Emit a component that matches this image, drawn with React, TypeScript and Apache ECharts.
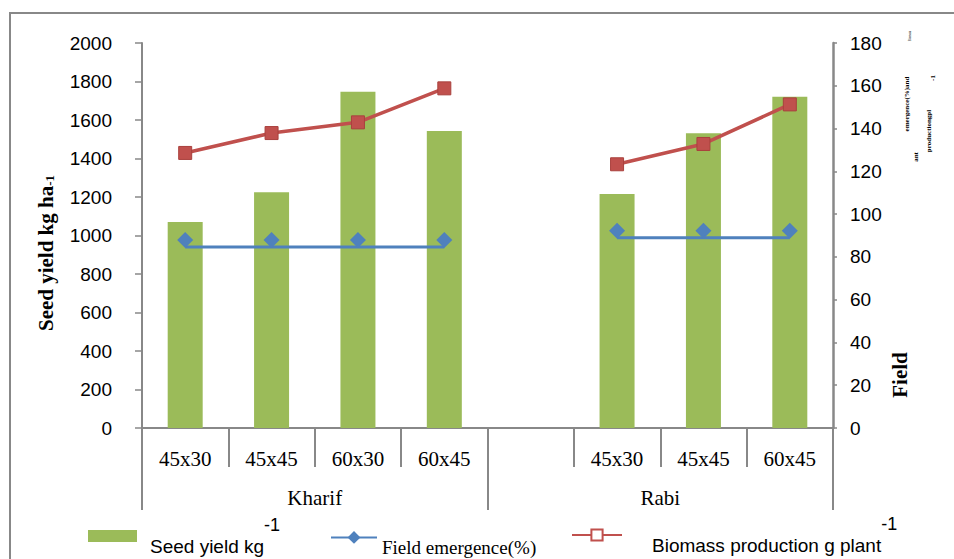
import React, { useEffect, useRef } from "react";
import * as echarts from "echarts";

const categories = ["45x30", "45x45", "60x30", "60x45", "", "45x30", "45x45", "60x45"];
const seasons = ["Kharif", "Rabi"];
const seedYield = [1070, 1225, 1747, 1543, null, 1216, 1531, 1721];
const fieldEmergence = [84.6, 84.6, 84.6, 84.6, null, 88.9, 88.9, 88.9];
const biomass = [128.6, 137.9, 142.9, 158.8, null, 123.3, 132.8, 151.3];

const seriesNames = ["Seed yield kg-1", "Field emergence(%)", "Biomass production g plant-1"];

const GRAY = "#888888";
const GREEN = "#9BBB59";
const BLUE = "#4F81BD";
const RED = "#C0504D";

export default function App() {
  const ref = useRef<HTMLDivElement>(null);
  useEffect(() => {
    if (!ref.current) return;
    const chart = echarts.init(ref.current, null, { renderer: "svg" });
    const sansLabel = { fontFamily: "Liberation Sans", fontSize: 19, color: "#000" };
    const serifLabel = { fontFamily: "Liberation Serif", fontSize: 21, color: "#000" };
    chart.setOption({
      animation: false,
      backgroundColor: "#ffffff",
      grid: [
        { left: 142, right: 121, top: 43, bottom: 131, containLabel: false },
        { left: 142, right: 121, top: 428, bottom: 92, containLabel: false },
      ],
      xAxis: [
        {
          type: "category",
          gridIndex: 0,
          data: categories,
          position: "bottom",
          boundaryGap: true,
          axisLine: { show: true, lineStyle: { color: GRAY, width: 2 } },
          axisTick: { show: true, interval: 0, length: 39, lineStyle: { color: GRAY, width: 2 } },
          axisLabel: { interval: 0, margin: 20, ...serifLabel },
        },
        {
          type: "category",
          gridIndex: 1,
          data: seasons,
          position: "bottom",
          boundaryGap: true,
          axisLine: { show: false },
          axisTick: { show: true, interval: 0, length: 43, lineStyle: { color: GRAY, width: 2 } },
          axisLabel: { show: true, interval: 0, margin: 20, ...serifLabel },
        },
      ],
      yAxis: [
        {
          type: "value",
          gridIndex: 0,
          min: 0,
          max: 2000,
          interval: 200,
          position: "left",
          axisLine: { show: true, lineStyle: { color: GRAY, width: 2 } },
          axisTick: { show: true, length: 7, lineStyle: { color: GRAY, width: 1.5 } },
          axisLabel: { margin: 30, formatter: (v: number) => String(v), ...sansLabel },
          splitLine: { show: false },
        },
        {
          type: "value",
          gridIndex: 0,
          min: 0,
          max: 180,
          interval: 20,
          position: "right",
          axisLine: { show: true, lineStyle: { color: GRAY, width: 2.5 } },
          axisTick: { show: true, length: 4, lineStyle: { color: GRAY, width: 1.5 } },
          axisLabel: { margin: 17, formatter: (v: number) => String(v), ...sansLabel },
          splitLine: { show: false },
        },
        {
          type: "value",
          gridIndex: 1,
          min: 0,
          max: 1,
          show: false,
        },
      ],
      legend: [
        {
          data: [seriesNames[0]],
          left: 83,
          top: 511,
          icon: "rect",
          itemWidth: 49,
          itemHeight: 12,
          formatter: () => "{b|Seed yield kg}{s|-1}",
          textStyle: {
            rich: {
              b: { fontFamily: "Liberation Sans", fontSize: 19, color: "#000", lineHeight: 40, verticalAlign: "bottom", padding: [0, 0, 0, 8] },
              s: { fontFamily: "Liberation Sans", fontSize: 18, color: "#000", lineHeight: 40, verticalAlign: "top" },
            },
          },
        },
        {
          data: [seriesNames[1]],
          left: 325,
          top: 526,
          itemWidth: 46,
          itemHeight: 16,
          formatter: () => "{t|Field emergence(%)}",
          textStyle: {
            rich: {
              t: { fontFamily: "Liberation Serif", fontSize: 19, color: "#000", lineHeight: 40, verticalAlign: "bottom" },
            },
          },
        },
        {
          data: [{ name: seriesNames[2], itemStyle: { color: "#ffffff", borderColor: RED, borderWidth: 2 } }],
          left: 566,
          top: 510,
          itemWidth: 50,
          itemHeight: 14,
          formatter: () => "{b|Biomass production g plant}{s|-1}",
          textStyle: {
            rich: {
              b: { fontFamily: "Liberation Sans", fontSize: 19, color: "#000", lineHeight: 40, verticalAlign: "bottom", padding: [0, 0, 0, 25] },
              s: { fontFamily: "Liberation Sans", fontSize: 18, color: "#000", lineHeight: 40, verticalAlign: "top" },
            },
          },
        },
      ],
      series: [
        {
          name: seriesNames[0],
          type: "bar",
          xAxisIndex: 0,
          yAxisIndex: 0,
          barWidth: 35,
          itemStyle: { color: GREEN },
          data: seedYield,
        },
        {
          name: seriesNames[1],
          type: "line",
          xAxisIndex: 0,
          yAxisIndex: 1,
          symbol: "diamond",
          symbolSize: 16,
          symbolOffset: [0, -7],
          lineStyle: { color: BLUE, width: 3 },
          itemStyle: { color: BLUE },
          data: fieldEmergence,
        },
        {
          name: seriesNames[2],
          type: "line",
          xAxisIndex: 0,
          yAxisIndex: 1,
          symbol: "rect",
          symbolSize: 13,
          lineStyle: { color: RED, width: 3.5 },
          itemStyle: { color: RED, borderColor: "#A9403D", borderWidth: 1 },
          data: biomass,
        },
        {
          name: "season-axis",
          type: "line",
          xAxisIndex: 1,
          yAxisIndex: 2,
          silent: true,
          showSymbol: false,
          lineStyle: { opacity: 0 },
          data: [null, null],
        },
      ],
      graphic: [
        {
          type: "rect",
          silent: true,
          z: -10,
          shape: { x: 10, y: 13, width: 960, height: 560 },
          style: { fill: "none", stroke: GRAY, lineWidth: 2 },
        },
        {
          type: "text",
          x: 43,
          y: 253,
          rotation: Math.PI / 2,
          style: {
            text: "{a|Seed yield kg ha}{b|-1}",
            align: "center",
            verticalAlign: "middle",
            rich: {
              a: { fontFamily: "Liberation Serif", fontWeight: "bold", fontSize: 21, color: "#000", lineHeight: 26, verticalAlign: "bottom" },
              b: { fontFamily: "Liberation Serif", fontWeight: "bold", fontSize: 13, color: "#000", lineHeight: 26, verticalAlign: "bottom" },
            },
          },
        },
        {
          type: "text",
          x: 900,
          y: 375,
          rotation: Math.PI / 2,
          style: { text: "Field", align: "center", verticalAlign: "middle", fontFamily: "Liberation Serif", fontWeight: "bold", fontSize: 21, fill: "#000" },
        },
        {
          type: "text",
          x: 907,
          y: 104,
          rotation: Math.PI / 2,
          style: { text: "emergence(%)and", align: "center", verticalAlign: "middle", fontFamily: "Liberation Serif", fontWeight: "bold", fontSize: 7, fill: "#000" },
        },
        {
          type: "text",
          x: 916,
          y: 157,
          rotation: Math.PI / 2,
          style: { text: "ant", align: "center", verticalAlign: "middle", fontFamily: "Liberation Serif", fontWeight: "bold", fontSize: 7, fill: "#000" },
        },
        {
          type: "text",
          x: 929,
          y: 131,
          rotation: Math.PI / 2,
          style: { text: "productiongpl", align: "center", verticalAlign: "middle", fontFamily: "Liberation Serif", fontWeight: "bold", fontSize: 7, fill: "#000" },
        },
        {
          type: "text",
          x: 933,
          y: 78,
          rotation: Math.PI / 2,
          style: { text: "-1", align: "center", verticalAlign: "middle", fontFamily: "Liberation Serif", fontWeight: "bold", fontSize: 7, fill: "#000" },
        },
        {
          type: "text",
          x: 910,
          y: 36,
          rotation: Math.PI / 2,
          style: { text: "Biomass", align: "center", verticalAlign: "middle", fontFamily: "Liberation Serif", fontSize: 3, fill: "#000" },
        },
      ],
    });
    return () => chart.dispose();
  }, []);
  return <div ref={ref} style={{ position: "fixed", left: 0, top: 0, width: 954, height: 559 }} />;
}
